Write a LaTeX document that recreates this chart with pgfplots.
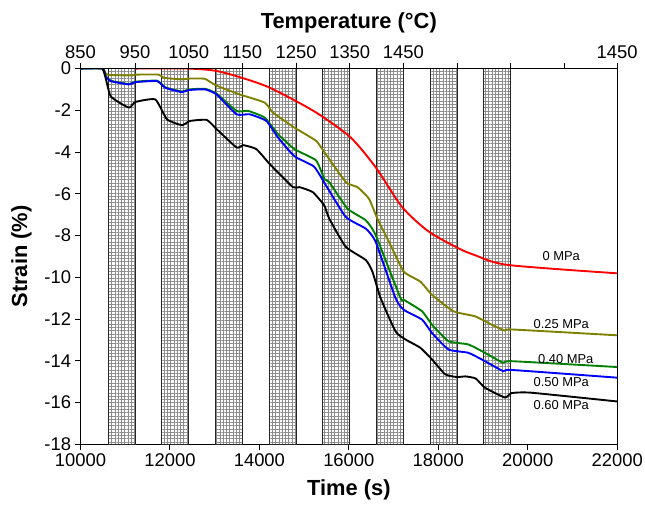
\documentclass[border=0pt]{standalone}
\usepackage{fontspec}
\setmainfont{Liberation Sans}
\usepackage{pgfplots}
\pgfplotsset{compat=1.18}
\usetikzlibrary{patterns.meta}
\definecolor{cred}{RGB}{255,0,0}
\definecolor{colive}{RGB}{128,128,0}
\definecolor{cgreen}{RGB}{0,128,0}
\definecolor{cblue}{RGB}{0,0,255}
\begin{document}
\begin{tikzpicture}
\tikzset{band/.style={draw=black!85, line width=1pt,
  pattern={Lines[angle=0,distance=3.3pt,line width=0.4pt]}, pattern color=black!45,
  postaction={pattern={Lines[angle=90,distance=3.3pt,line width=0.4pt]}, pattern color=black!45}},
  curve/.style={line width=1.9pt, line join=round, smooth, tension=0.3}}
\begin{axis}[name=main, scale only axis, width=540pt, height=378pt,
  xmin=10000, xmax=22000, ymin=-18, ymax=0,
  xtick={10000,12000,...,22000}, ytick={-18,-16,...,0},
  scaled x ticks=false,
  xtick pos=left, ytick pos=left, tick align=outside, major tick length=6pt,
  axis line style={line width=1pt}, every tick/.style={black, line width=1pt},
  /pgf/number format/assume math mode=true,
  /pgf/number format/set thousands separator={},
  ticklabel style={font=\fontsize{18.5}{20}\selectfont},
  xlabel={Time (s)}, ylabel={Strain (\%)},
  xlabel shift=6pt, ylabel shift=6pt,
  label style={font=\bfseries\fontsize{22}{24}\selectfont}]
% hatched bands
\addplot[band] coordinates {(10620,-18) (10620,0) (11220,0) (11220,-18)} -- cycle;
\addplot[band] coordinates {(11820,-18) (11820,0) (12420,0) (12420,-18)} -- cycle;
\addplot[band] coordinates {(13020,-18) (13020,0) (13620,0) (13620,-18)} -- cycle;
\addplot[band] coordinates {(14220,-18) (14220,0) (14820,0) (14820,-18)} -- cycle;
\addplot[band] coordinates {(15420,-18) (15420,0) (16020,0) (16020,-18)} -- cycle;
\addplot[band] coordinates {(16620,-18) (16620,0) (17220,0) (17220,-18)} -- cycle;
\addplot[band] coordinates {(17820,-18) (17820,0) (18420,0) (18420,-18)} -- cycle;
\addplot[band] coordinates {(19020,-18) (19020,0) (19620,0) (19620,-18)} -- cycle;
% 0 MPa
\addplot[curve, cred, tension=0.45] coordinates {(11220,0) (12400,0) (13000,-0.1) (13500,-0.37) (14150,-0.84) (14750,-1.48) (15330,-2.19) (16040,-3.3) (16600,-4.73) (17190,-6.63) (17780,-7.8) (18440,-8.6) (18820,-8.94) (19560,-9.41) (22000,-9.81)};
% 0.25 MPa
\addplot[curve, colive] coordinates {(10000,0) (10489,0) (10600,-0.29) (11156,-0.33) (11229,-0.29) (11749,-0.29) (11860,-0.44) (12267,-0.52) (12416,-0.48) (12778,-0.49) (13022,-0.8) (13562,-1.24) (14118,-1.63) (14304,-2.11) (14784,-2.83) (15267,-3.46) (15451,-4.0) (15933,-5.44) (16193,-5.68) (16451,-6.24) (16638,-7.19) (16933,-8.46) (17229,-9.73) (17600,-10.21) (17860,-10.84) (18340,-11.63) (18822,-11.87) (19193,-12.27) (19489,-12.56) (19638,-12.5) (22000,-12.78)};
% 0.40 MPa
\addplot[curve, cgreen] coordinates {(10000,0) (10489,0) (10562,-0.35) (10673,-0.58) (11082,-0.74) (11229,-0.63) (11711,-0.58) (11896,-0.9) (12267,-1.1) (12416,-1.0) (12784,-0.97) (13044,-1.2) (13489,-2.03) (13749,-2.03) (14118,-2.35) (14416,-3.14) (14784,-3.86) (15267,-4.4) (15451,-5.29) (15562,-5.44) (15971,-6.71) (16378,-7.27) (16600,-7.98) (17156,-11.0) (17229,-11.08) (17638,-11.63) (17860,-12.27) (18229,-13.06) (18673,-13.22) (19044,-13.62) (19451,-14.1) (19638,-14.02) (22000,-14.3)};
% 0.50 MPa
\addplot[curve, cblue] coordinates {(10000,0) (10489,0) (10562,-0.37) (10673,-0.6) (11082,-0.76) (11229,-0.65) (11711,-0.6) (11896,-0.92) (12267,-1.13) (12416,-1.03) (12784,-1.0) (13044,-1.24) (13489,-2.19) (13784,-2.19) (14156,-2.51) (14416,-3.3) (14784,-4.2) (15222,-4.7) (15489,-5.6) (15933,-7.11) (16378,-7.67) (16600,-8.3) (17044,-11.0) (17229,-11.56) (17638,-12.03) (17860,-12.67) (18229,-13.46) (18673,-13.62) (19044,-14.02) (19451,-14.5) (19638,-14.44) (22000,-14.81)};
% 0.60 MPa
\addplot[curve, black] coordinates {(10000,0) (10489,0) (10673,-1.32) (11082,-1.87) (11229,-1.6) (11673,-1.48) (11933,-2.43) (12267,-2.71) (12451,-2.51) (12822,-2.46) (13044,-2.9) (13489,-3.78) (13638,-3.67) (13933,-3.86) (14229,-4.57) (14749,-5.68) (14896,-5.68) (15193,-5.92) (15451,-6.56) (15562,-7.19) (15933,-8.54) (16378,-9.17) (16527,-9.73) (16711,-11.0) (17044,-12.59) (17267,-12.98) (17600,-13.38) (17860,-13.94) (18156,-14.65) (18416,-14.78) (18608,-14.75) (18837,-14.85) (19044,-15.29) (19489,-15.76) (19638,-15.55) (20073,-15.53) (22000,-15.95)};
\node[font=\fontsize{13}{15}\selectfont] at (axis cs:20750,-9.0) {0 MPa};
\node[font=\fontsize{13}{15}\selectfont] at (axis cs:20750,-12.24) {0.25 MPa};
\node[font=\fontsize{13}{15}\selectfont] at (axis cs:20850,-13.9) {0.40 MPa};
\node[font=\fontsize{13}{15}\selectfont] at (axis cs:20750,-15.0) {0.50 MPa};
\node[font=\fontsize{13}{15}\selectfont] at (axis cs:20750,-16.14) {0.60 MPa};
\end{axis}
\begin{axis}[scale only axis, width=540pt, height=378pt,
  xmin=10000, xmax=22000, ymin=-18, ymax=0,
  scaled x ticks=false,
  axis x line=top, axis y line=none,
  x axis line style={-, line width=1pt},
  every tick/.style={black, line width=1pt},
  tick align=outside, major tick length=6pt,
  xtick={10000,11220,12420,13620,14820,16020,17220,18420,19620,20820,22000},
  xticklabels={850,950,1050,1150,1250,1350,1450,{},{},{},1450},
  ticklabel style={font=\fontsize{18.5}{20}\selectfont},
  xlabel={Temperature (°C)}, xlabel shift=6pt,
  label style={font=\bfseries\fontsize{22}{24}\selectfont}]
\addplot[draw=none] coordinates {(10000,0) (22000,-18)};
\end{axis}
\pgfresetboundingbox
\path (main.south west) ++(-81pt,-67pt) coordinate (bl);
\path (main.north east) ++(28pt,69pt) coordinate (tr);
\path[use as bounding box] (bl) rectangle (tr);
\end{tikzpicture}
\end{document}
